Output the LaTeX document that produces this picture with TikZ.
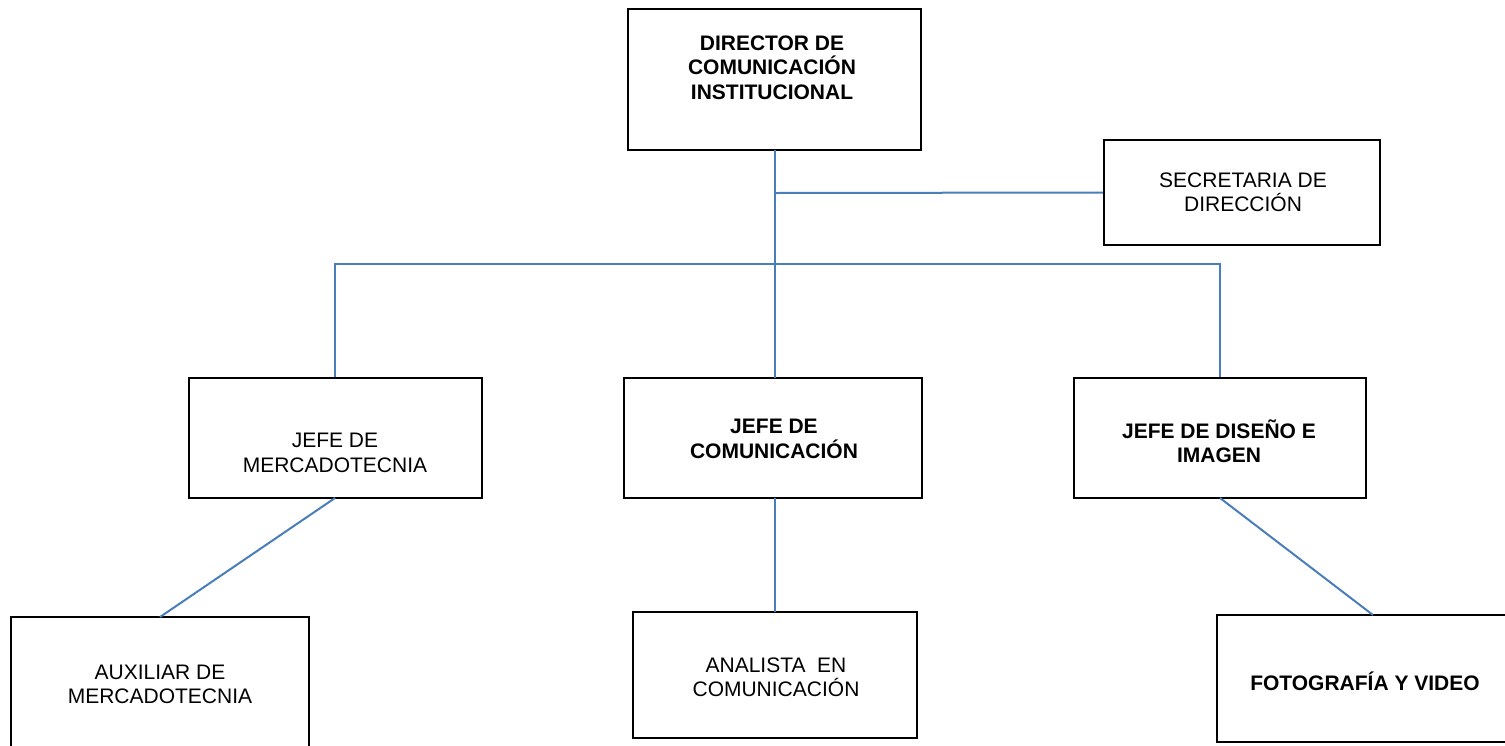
\documentclass[tikz,border=0pt]{standalone}
\usepackage{fontspec}
\setmainfont{Liberation Sans}
\usetikzlibrary{calc}
\definecolor{linkblue}{RGB}{74,126,187}
\tikzset{
  orgbox/.style={draw=black, line width=2.5pt, fill=none, rectangle, inner sep=0pt},
  orgtxt/.style={align=center, inner sep=0pt, font=\fontsize{21}{24.3}\selectfont},
  orgbold/.style={orgtxt, font=\fontsize{21}{24.3}\selectfont\bfseries},
  link/.style={draw=linkblue, line width=2pt}
}
\begin{document}
\begin{tikzpicture}[x=1pt,y=-1pt]
\useasboundingbox (0,0) rectangle (1505,745);
% boxes
\node[orgbox, minimum width=293pt, minimum height=141pt] (dir) at (774.5,79.5) {};
\node[orgbox, minimum width=276pt, minimum height=105pt] (sec) at (1242,192.5) {};
\node[orgbox, minimum width=293pt, minimum height=120pt] (jmer) at (335.5,438) {};
\node[orgbox, minimum width=298pt, minimum height=120pt] (jcom) at (773,438) {};
\node[orgbox, minimum width=292pt, minimum height=120pt] (jdis) at (1220,438) {};
\node[orgbox, minimum width=298pt, minimum height=153pt] (aux) at (160,693.5) {};
\node[orgbox, minimum width=284pt, minimum height=126pt] (ana) at (775,675) {};
\node[orgbox, minimum width=303pt, minimum height=127pt] (fot) at (1368.5,678.5) {};
% texts
\node[orgbold] (tdir) at (772,67.5) {DIRECTOR DE\\COMUNICACIÓN\\INSTITUCIONAL};
\node[orgtxt] (tsec) at (1243,192.5) {SECRETARIA DE\\DIRECCIÓN};
\node[orgtxt] (tjmer) at (335,453) {JEFE DE\\MERCADOTECNIA};
\node[orgbold] (tjcom) at (774,439) {JEFE DE\\COMUNICACIÓN};
\node[orgbold] (tjdis) at (1219,441) {JEFE DE DISEÑO E\\IMAGEN};
\node[orgtxt] (taux) at (160,684.5) {AUXILIAR DE\\MERCADOTECNIA};
\node[orgtxt] (tana) at (776,677.5) {ANALISTA\ \ EN\\COMUNICACIÓN};
\node[orgbold] (tfot) at (1365,681) {FOTOGRAFÍA Y VIDEO};
% junction coordinates
\coordinate (jsec) at (775,193);
\coordinate (jbar) at (775,264);
\coordinate (jl) at (335,264);
\coordinate (jr) at (1220,264);
\coordinate (dirout) at (775,150);
\coordinate (jcomin) at (775,378);
\coordinate (jcomout) at (775,498);
\coordinate (anain) at (775,612);
\coordinate (jdisout) at (1220,498);
\coordinate (fotin) at (1373,615);
\coordinate (jmerout) at (335,498);
\coordinate (auxin) at (160,617);
% connectors
\draw[link] (dirout) -- (jsec) -- (jbar) -- (jcomin);
\draw[link] (jsec) -- (sec.west);
\draw[link] (jl |- jmer.north) -- (jl) -- (jr) -- (jr |- jdis.north);
\draw[link] (jmerout) -- (auxin);
\draw[link] (jcomout) -- (anain);
\draw[link] (jdisout) -- (fotin);
\end{tikzpicture}
\end{document}
